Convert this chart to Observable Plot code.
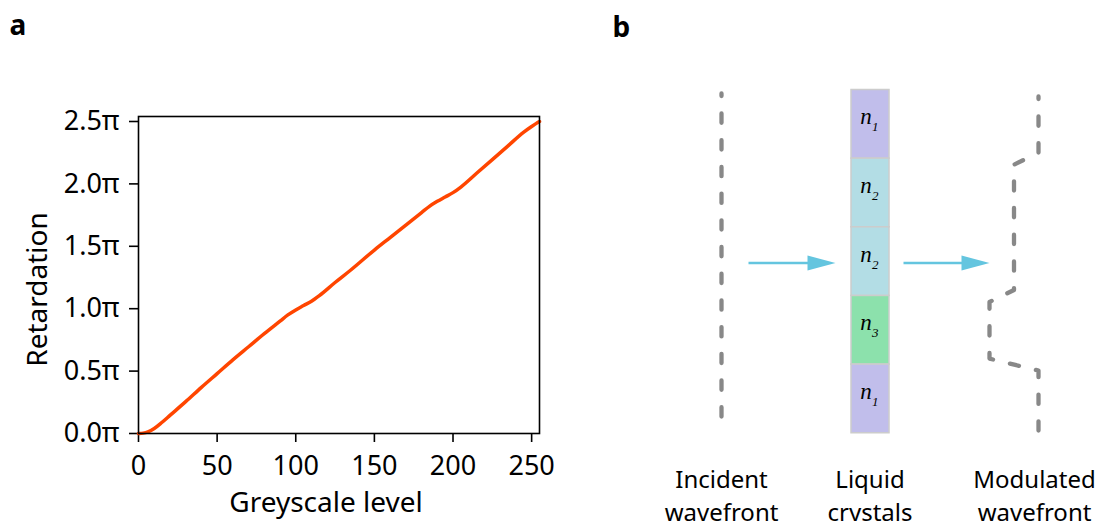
<!DOCTYPE html>
<html><head><meta charset="utf-8">
<script src="https://cdn.jsdelivr.net/npm/d3@7"></script>
<script src="https://cdn.jsdelivr.net/npm/@observablehq/plot@0.6"></script>
<style>
html,body{margin:0;padding:0;background:#fff;}
#fig{position:relative;width:1101px;height:521px;overflow:hidden;background:#fff;}
#pa{position:absolute;left:0;top:0;}
#pb{position:absolute;left:600px;top:0;}
</style></head><body>
<div id="fig"><div id="pa"></div><div id="pb"></div></div>
<script>
// ---- Panel a data ----
const greyLevels    = [0, 3, 6, 10, 15, 20, 30, 40, 50, 60, 70, 80, 90, 95, 100, 105, 110, 115, 125, 135, 150, 160, 170, 180, 185, 190, 195, 200, 205, 215, 225, 235, 245, 250, 253, 255];
const retardationPi = [0, 0.003, 0.013, 0.04, 0.09, 0.145, 0.255, 0.37, 0.48, 0.59, 0.695, 0.8, 0.9, 0.95, 0.99, 1.025, 1.06, 1.105, 1.21, 1.31, 1.47, 1.57, 1.67, 1.77, 1.82, 1.86, 1.895, 1.93, 1.975, 2.085, 2.195, 2.305, 2.415, 2.46, 2.485, 2.5];
const xTickValues = [0, 50, 100, 150, 200, 250];
const yTickValues = [0, 0.5, 1, 1.5, 2, 2.5];
const xLabel = "Greyscale level";
const yLabel = "Retardation";
const panelLabels = ["a", "b"];

// ---- Panel b data ----
const cellIndex = [1, 2, 2, 3, 1];               // refractive index level of each liquid-crystal cell
const indexColors = ["#c1beeb", "#b3dde5", "#8ce1ac"];
const columnLabels = ["Incident\nwavefront", "Liquid\ncrystals", "Modulated\nwavefront"];

// ---- layout for the schematic ----
const L = {
  colX: [721, 869.5, 1034], cellX1: 851, cellX2: 889, top: 89.5, cellH: 68.65,
  waveTop: 94, waveBottom: 431, modX: 1038, modStep: 24.5, bend: 6,
  arrowY: 262.5, arrows: [[748, 835], [903, 989]], headLen: 28, headHalf: 7.5,
  labelTop: 464
};
const FONT = "Noto Sans";

const curve = greyLevels.map((g, i) => ({g, r: retardationPi[i]}));

const plotA = Plot.plot({
  width: 560, height: 521,
  marginLeft: 138, marginRight: 21, marginTop: 116, marginBottom: 88,
  style: {fontFamily: FONT, fontSize: "27px", color: "#000", background: "transparent", overflow: "visible"},
  x: {domain: [0, 255]},
  y: {domain: [0, 2.54]},
  marks: [
    Plot.axisX(xTickValues, {tickSize: 9, tickPadding: 13, strokeWidth: 1.6, fontSize: 27, label: null}),
    Plot.axisY(yTickValues, {tickSize: 9, tickPadding: 10, strokeWidth: 1.6, fontSize: 27, label: null, tickFormat: d => d.toFixed(1) + "π"}),
    Plot.line(curve, {x: "g", y: "r", stroke: "#ff4500", strokeWidth: 3.5, curve: "monotone-x"}),
    Plot.frame({stroke: "#000", strokeWidth: 1.6}),
    Plot.text([xLabel], {frameAnchor: "bottom", dx: -13, dy: 78, lineAnchor: "bottom", textAnchor: "middle", fontSize: 28}),
    Plot.text([yLabel], {frameAnchor: "left", dx: -100, dy: 14.5, rotate: -90, textAnchor: "middle", lineAnchor: "middle", fontSize: 28}),
    Plot.text([panelLabels[0]], {frameAnchor: "top-left", dx: -129, dy: -81.5, lineAnchor: "bottom", textAnchor: "start", fontSize: 28, fontWeight: "bold"})
  ]
});
document.getElementById("pa").appendChild(plotA);

// ---- Panel b ----
const cells = cellIndex.map((n, i) => ({n, y1: L.top + i * L.cellH, y2: L.top + (i + 1) * L.cellH}));
const incident = [{x: L.colX[0], y: L.waveTop - 1}, {x: L.colX[0], y: L.waveBottom + 1}];
const modX = n => L.modX - (n - 1) * L.modStep;
const modulated = [{x: modX(cellIndex[0]), y: L.waveTop + 2}];
for (let i = 1; i < cells.length; ++i) {
  if (cellIndex[i] !== cellIndex[i - 1]) {
    modulated.push({x: modX(cellIndex[i - 1]), y: cells[i].y1 - L.bend});
    modulated.push({x: modX(cellIndex[i]), y: cells[i].y1 + L.bend});
  }
}
modulated.push({x: modX(cellIndex[cellIndex.length - 1]), y: L.waveBottom});
const shafts = L.arrows.map(([a, b]) => ({x1: a, x2: b - L.headLen + 2, y: L.arrowY}));
const heads = L.arrows.flatMap(([a, b], i) => [
  {x: b - L.headLen, y: L.arrowY - L.headHalf, i},
  {x: b, y: L.arrowY, i},
  {x: b - L.headLen, y: L.arrowY + L.headHalf, i}
]);
const dash = {stroke: "#888888", strokeWidth: 4.3, strokeDasharray: "9.3,17.4", strokeLinecap: "round", strokeLinejoin: "round"};

const plotB = Plot.plot({
  width: 501, height: 521, margin: 0,
  style: {fontFamily: FONT, fontSize: "24px", color: "#000", background: "transparent", overflow: "visible"},
  x: {domain: [600, 1101], range: [0, 501], axis: null},
  y: {domain: [0, 521], range: [0, 521], axis: null},
  color: {type: "identity"},
  marks: [
    Plot.line(incident, {x: "x", y: "y", ...dash, strokeDashoffset: 6.7}),
    Plot.line(modulated, {x: "x", y: "y", ...dash, strokeDashoffset: 6.7}),
    Plot.link(shafts, {x1: "x1", x2: "x2", y1: "y", y2: "y", stroke: "#64c5df", strokeWidth: 2.7}),
    Plot.line(heads, {x: "x", y: "y", z: "i", fill: "#64c5df", stroke: "none"}),
    Plot.rect(cells, {x1: () => L.cellX1, x2: () => L.cellX2, y1: "y1", y2: "y2", fill: d => indexColors[d.n - 1], stroke: "#cccccc", strokeWidth: 1.5}),
    Plot.text(cells, {x: () => L.colX[1] - 4, y: d => (d.y1 + d.y2) / 2, text: () => "n", lineAnchor: "bottom", fontFamily: "Liberation Serif", fontStyle: "italic", fontSize: 23}),
    Plot.text(cells, {x: () => L.colX[1] + 2, y: d => (d.y1 + d.y2) / 2 + 7, text: d => String(d.n), lineAnchor: "bottom", textAnchor: "start", fontFamily: "Liberation Serif", fontStyle: "italic", fontSize: 13}),
    Plot.text(columnLabels, {x: (d, i) => L.colX[i], y: () => L.labelTop, lineAnchor: "top", lineHeight: 1.375, fontSize: 24}),
    Plot.text([panelLabels[1]], {x: () => 612, y: () => 36, lineAnchor: "bottom", textAnchor: "start", fontSize: 28, fontWeight: "bold"})
  ]
});
document.getElementById("pb").appendChild(plotB);
</script>
</body></html>
